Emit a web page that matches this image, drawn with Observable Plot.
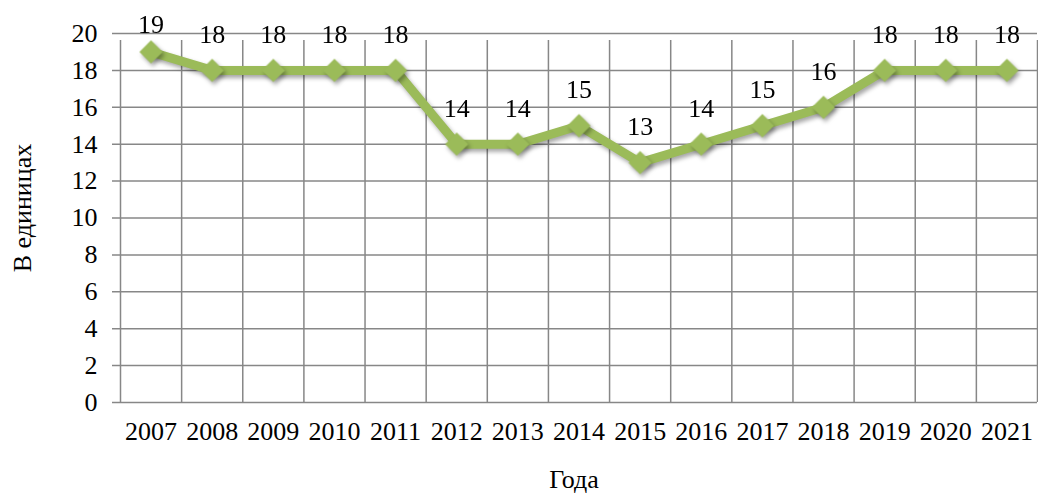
<!DOCTYPE html>
<html>
<head>
<meta charset="utf-8">
<script src="https://cdn.jsdelivr.net/npm/d3@7"></script>
<script src="https://cdn.jsdelivr.net/npm/@observablehq/plot@0.6"></script>
<style>
  html, body { margin: 0; padding: 0; background: #fff; }
  #chart svg { display: block; }
  #chart svg, #chart svg text { font-family: "Liberation Serif", "DejaVu Serif", serif !important; }
  #chart g[aria-label="line"], #chart g[aria-label="dot"] { filter: drop-shadow(2px 3px 2px rgba(0,0,0,0.35)); }
</style>
</head>
<body>
<div id="chart"></div>
<script>
const years = ["2007","2008","2009","2010","2011","2012","2013","2014","2015","2016","2017","2018","2019","2020","2021"];
const values = [19, 18, 18, 18, 18, 14, 14, 15, 13, 14, 15, 16, 18, 18, 18];
const yTicks = [0, 2, 4, 6, 8, 10, 12, 14, 16, 18, 20];
const yLabel = "В единицах";
const xLabel = "Года";

const data = years.map((y, i) => ({i, year: y, value: values[i]}));
const bounds = d3.range(years.length + 1).map(k => k - 0.5);
const grid = "#878787";
const green = "#9BBB59";
const font = "Liberation Serif";

const chart = Plot.plot({
  width: 1038,
  height: 493,
  marginLeft: 120,
  marginRight: 1,
  marginTop: 33,
  marginBottom: 91,
  style: {fontFamily: font, fontSize: "26px", color: "#000", background: "#fff"},
  x: {type: "linear", domain: [-0.5, years.length - 0.5]},
  y: {domain: [0, 20]},
  marks: [
    Plot.ruleY(yTicks, {y: d => d, x1: -0.5, x2: years.length - 0.5, stroke: grid, strokeWidth: 1.5, insetLeft: -8, strokeOpacity: 1}),
    Plot.ruleX(bounds, {x: d => d, y1: 0, y2: 20, stroke: grid, strokeWidth: 1.5, insetBottom: -7, strokeOpacity: 1}),
    Plot.axisY({ticks: yTicks, tickSize: 0, tickPadding: 23, fontSize: 26, fontFamily: font, label: null}),
    Plot.axisX({ticks: data.map(d => d.i), tickFormat: i => years[i], tickSize: 0, tickPadding: 19, fontSize: 26, fontFamily: font, label: null}),
    Plot.line(data, {x: "i", y: "value", stroke: green, strokeWidth: 9, strokeLinejoin: "miter"}),
    Plot.dot(data, {x: "i", y: "value", symbol: "diamond2", r: 10.5, fill: green, stroke: "none"}),
    Plot.text(data, {x: "i", y: d => Math.min(d.value + 1.95, 20.5), text: d => String(d.value), lineAnchor: "middle", fontSize: 26, fontFamily: font, fill: "#000"}),
    Plot.text([yLabel], {frameAnchor: "left", textAnchor: "middle", lineAnchor: "middle", dx: -98, dy: -10, rotate: -90, fontSize: 26, fontFamily: font, fill: "#000"}),
    Plot.text([xLabel], {frameAnchor: "bottom", textAnchor: "middle", lineAnchor: "middle", dx: -5, dy: 77, fontSize: 26, fontFamily: font, fill: "#000"})
  ]
});
document.getElementById("chart").append(chart);
</script>
</body>
</html>
